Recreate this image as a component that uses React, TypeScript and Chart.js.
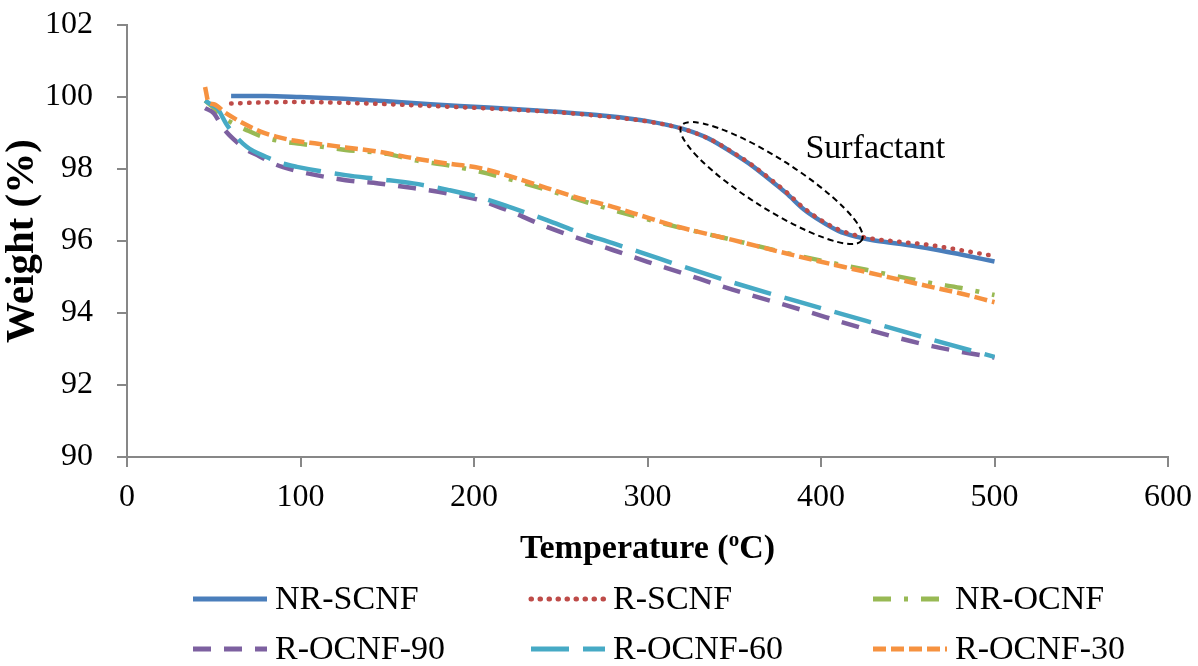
import React, { useEffect, useRef } from "react";
import { Chart, registerables } from "chart.js";

Chart.register(...registerables);

// ---- Data ----
const seriesLabels = ["NR-SCNF", "R-SCNF", "NR-OCNF", "R-OCNF-90", "R-OCNF-60", "R-OCNF-30"];
const seriesColors = ["#4A7EBB", "#BE4B48", "#98B954", "#7D60A0", "#46AAC5", "#F69240"];

const nrScnfTemp = [60, 80, 100, 125, 150, 175, 200, 225, 250, 275, 300, 320, 335, 350, 360, 370, 380, 390, 400, 410, 420, 430, 445, 464, 480, 500];
const nrScnfWeight = [100.03, 100.03, 100.0, 99.95, 99.88, 99.8, 99.73, 99.66, 99.58, 99.48, 99.33, 99.12, 98.85, 98.42, 98.1, 97.72, 97.33, 96.88, 96.55, 96.28, 96.12, 96.02, 95.92, 95.78, 95.63, 95.43];

const rScnfTemp = [60, 80, 100, 125, 150, 175, 200, 225, 250, 275, 300, 320, 335, 350, 360, 370, 380, 390, 400, 410, 420, 430, 445, 464, 480, 500];
const rScnfWeight = [99.82, 99.85, 99.86, 99.84, 99.8, 99.75, 99.7, 99.64, 99.57, 99.46, 99.32, 99.12, 98.85, 98.44, 98.12, 97.75, 97.36, 96.92, 96.58, 96.32, 96.16, 96.06, 95.98, 95.88, 95.75, 95.58];

const nrOcnfTemp = [45, 50, 55, 61, 69, 78, 90, 100, 126, 150, 165, 185, 203, 220, 242, 260, 280, 300, 318, 349, 388, 426, 464, 480, 500];
const nrOcnfWeight = [99.9, 99.7, 99.45, 99.27, 99.08, 98.9, 98.76, 98.7, 98.53, 98.42, 98.25, 98.1, 97.93, 97.72, 97.42, 97.15, 96.86, 96.6, 96.38, 96.03, 95.58, 95.2, 94.83, 94.7, 94.5];

const rOcnf90Temp = [45, 50, 55, 59, 65, 69, 75, 84, 90, 100, 126, 145, 165, 185, 203, 222, 242, 260, 280, 300, 318, 349, 388, 426, 464, 500];
const rOcnf90Weight = [99.69, 99.55, 99.17, 98.94, 98.68, 98.53, 98.39, 98.16, 98.05, 97.92, 97.69, 97.6, 97.47, 97.32, 97.14, 96.8, 96.39, 96.08, 95.75, 95.42, 95.14, 94.65, 94.1, 93.55, 93.08, 92.76];

const rOcnf60Temp = [45, 50, 52, 57, 61, 69, 80, 90, 98, 126, 145, 165, 185, 203, 222, 242, 260, 280, 300, 318, 349, 388, 426, 464, 500];
const rOcnf60Weight = [99.9, 99.75, 99.69, 99.27, 99.0, 98.62, 98.34, 98.15, 98.06, 97.83, 97.72, 97.6, 97.42, 97.22, 96.92, 96.58, 96.25, 95.94, 95.62, 95.33, 94.85, 94.3, 93.78, 93.26, 92.78];

const rOcnf30Temp = [45, 47, 50, 57, 67, 77, 86, 96, 110, 126, 145, 165, 185, 203, 222, 242, 260, 280, 300, 318, 349, 388, 426, 464, 480, 500];
const rOcnf30Weight = [100.28, 99.85, 99.8, 99.55, 99.27, 99.04, 98.9, 98.79, 98.7, 98.6, 98.48, 98.3, 98.15, 98.03, 97.78, 97.47, 97.2, 96.95, 96.65, 96.39, 96.03, 95.56, 95.14, 94.72, 94.55, 94.3];

const xTickValues = [0, 100, 200, 300, 400, 500, 600];
const yTickValues = [90, 92, 94, 96, 98, 100, 102];

const xTitleMain = "Temperature (";
const xTitleSup = "o";
const xTitleEnd = "C)";
const yTitle = "Weight (%)";

const annotationText = "Surfactant";
const annotationAnchor = [391, 98.31]; // [temperature, weight] of text baseline start
const ellipseTipA = [319.5, 99.2];
const ellipseTipB = [423.5, 96.02];

const FONT = '"Liberation Serif", "Times New Roman", serif';

const dashes: number[][] = [[], [0.5, 8.5], [18, 13, 4, 13], [18, 13], [38, 14], [13, 5]];
const caps = ["butt", "round", "butt", "butt", "butt", "butt"];

const temps = [nrScnfTemp, rScnfTemp, nrOcnfTemp, rOcnf90Temp, rOcnf60Temp, rOcnf30Temp];
const weights = [nrScnfWeight, rScnfWeight, nrOcnfWeight, rOcnf90Weight, rOcnf60Weight, rOcnf30Weight];

const overlayPlugin = {
  id: "overlay",
  afterDatasetsDraw(chart: any) {
    const { ctx, scales } = chart;
    const xs = scales.x;
    const ys = scales.y;
    const ax = xs.getPixelForValue(ellipseTipA[0]);
    const ay = ys.getPixelForValue(ellipseTipA[1]);
    const bx = xs.getPixelForValue(ellipseTipB[0]);
    const by = ys.getPixelForValue(ellipseTipB[1]);
    const cx = (ax + bx) / 2;
    const cy = (ay + by) / 2;
    const rx = Math.hypot(bx - ax, by - ay) / 2;
    const ang = Math.atan2(by - ay, bx - ax);
    ctx.save();
    ctx.beginPath();
    ctx.ellipse(cx, cy, rx, 25, ang, 0, Math.PI * 2);
    ctx.setLineDash([6, 4]);
    ctx.lineWidth = 2;
    ctx.strokeStyle = "#000";
    ctx.stroke();
    ctx.setLineDash([]);
    ctx.font = `34px ${FONT}`;
    ctx.fillStyle = "#000";
    ctx.textBaseline = "alphabetic";
    ctx.textAlign = "left";
    ctx.fillText(annotationText, xs.getPixelForValue(annotationAnchor[0]), ys.getPixelForValue(annotationAnchor[1]));
    ctx.restore();
  },
  afterDraw(chart: any) {
    const { ctx, chartArea } = chart;
    ctx.save();
    // x-axis title with superscript
    ctx.fillStyle = "#000";
    ctx.textBaseline = "alphabetic";
    ctx.textAlign = "left";
    const bigFont = `bold 34px ${FONT}`;
    const smallFont = `bold 21px ${FONT}`;
    ctx.font = bigFont;
    const w1 = ctx.measureText(xTitleMain).width;
    const w3 = ctx.measureText(xTitleEnd).width;
    ctx.font = smallFont;
    const w2 = ctx.measureText(xTitleSup).width;
    const cxT = (chartArea.left + chartArea.right) / 2;
    let sx = cxT - (w1 + w2 + w3) / 2;
    const base = chartArea.bottom + 101;
    ctx.font = bigFont;
    ctx.fillText(xTitleMain, sx, base);
    sx += w1;
    ctx.font = smallFont;
    ctx.fillText(xTitleSup, sx, base - 12);
    sx += w2;
    ctx.font = bigFont;
    ctx.fillText(xTitleEnd, sx, base);

    // legend grid
    const colX = [193, 531, 873];
    const rowY = [599, 649];
    const lineLen = 74;
    chart.data.datasets.forEach((ds: any, i: number) => {
      const col = i % 3;
      const row = Math.floor(i / 3);
      const x0 = colX[col];
      const y0 = rowY[row];
      ctx.beginPath();
      ctx.strokeStyle = ds.borderColor;
      ctx.lineWidth = 5;
      ctx.lineCap = ds.borderCapStyle;
      ctx.setLineDash(ds.borderDash || []);
      ctx.moveTo(x0, y0);
      ctx.lineTo(x0 + lineLen, y0);
      ctx.stroke();
      ctx.setLineDash([]);
      ctx.font = `34px ${FONT}`;
      ctx.fillStyle = "#000";
      ctx.textBaseline = "middle";
      ctx.fillText(ds.label, x0 + lineLen + 8, y0 + 1);
    });
    ctx.restore();
  },
};

export default function App() {
  const canvasRef = useRef<HTMLCanvasElement | null>(null);

  useEffect(() => {
    document.body.style.margin = "0";
    document.body.style.overflow = "hidden";
    const canvas = canvasRef.current;
    if (!canvas) return;
    const datasets = seriesLabels.map((label, i) => ({
      label,
      data: temps[i].map((t, j) => ({ x: t, y: weights[i][j] })),
      borderColor: seriesColors[i],
      backgroundColor: seriesColors[i],
      borderWidth: 4.5,
      borderDash: dashes[i],
      borderCapStyle: caps[i],
      pointRadius: 0,
      fill: false,
      cubicInterpolationMode: "monotone",
      order: seriesLabels.length - i,
    }));
    const gridColor = "#878787";
    const chart = new Chart(canvas, {
      type: "line",
      data: { datasets: datasets as any },
      options: {
        responsive: false,
        animation: false,
        layout: { padding: { top: 25, right: 30, bottom: 0, left: 0 } },
        plugins: { legend: { display: false }, tooltip: { enabled: false } },
        scales: {
          x: {
            type: "linear",
            min: 0,
            max: 600,
            afterBuildTicks: (s: any) => {
              s.ticks = xTickValues.map((v) => ({ value: v }));
            },
            ticks: {
              font: { family: FONT, size: 32 },
              color: "#000",
              padding: 11,
              maxRotation: 0,
              autoSkip: false,
            },
            grid: { drawOnChartArea: false, drawTicks: true, tickLength: 10, color: gridColor, lineWidth: 2 },
            border: { color: gridColor, width: 2 },
            afterFit: (s: any) => {
              s.height = 209;
              s.paddingLeft = 0;
              s.paddingRight = 0;
            },
          },
          y: {
            type: "linear",
            min: 90,
            max: 102,
            afterBuildTicks: (s: any) => {
              s.ticks = yTickValues.map((v) => ({ value: v }));
            },
            ticks: {
              font: { family: FONT, size: 32 },
              color: "#000",
              padding: 24,
              autoSkip: false,
            },
            grid: { drawOnChartArea: false, drawTicks: true, tickLength: 10, color: gridColor, lineWidth: 2 },
            border: { color: gridColor, width: 2 },
            title: {
              display: true,
              text: yTitle,
              color: "#000",
              font: { family: FONT, size: 41, weight: "bold", lineHeight: 1.1 },
              padding: { top: 0, bottom: 0 },
            },
            afterFit: (s: any) => {
              s.width = 127;
              s.paddingTop = 0;
              s.paddingBottom = 0;
            },
          },
        },
      } as any,
      plugins: [overlayPlugin],
    });
    return () => chart.destroy();
  }, []);

  return (
    <div style={{ width: 1198, height: 666 }}>
      <canvas ref={canvasRef} width={1198} height={666} style={{ display: "block" }} />
    </div>
  );
}
